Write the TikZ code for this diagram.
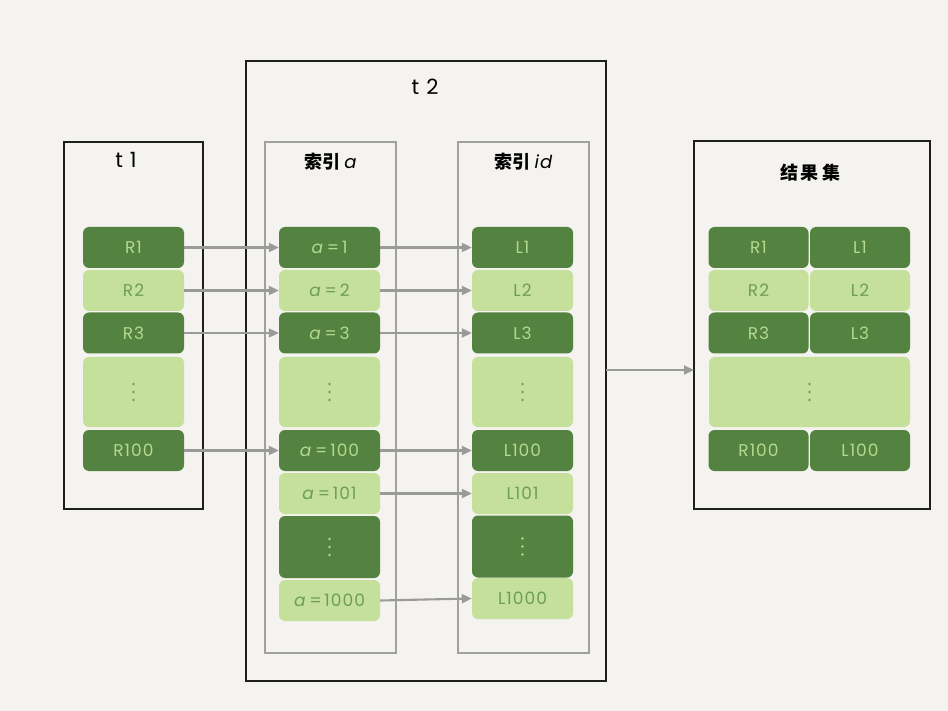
\documentclass[tikz,border=0pt]{standalone}
\usepackage{fontspec}
\setmainfont{Poppins}[LetterSpace=6]
\newfontfamily\cjk{Noto Sans CJK SC}
\usetikzlibrary{arrows.meta,calc}
\definecolor{bg}{HTML}{F4F3EF}
\definecolor{dkg}{HTML}{548240}
\definecolor{ltg}{HTML}{C5E09B}
\definecolor{dktxt}{HTML}{B3D98F}
\definecolor{lttxt}{HTML}{6E9E55}
\definecolor{arr}{HTML}{9A9A9A}
\definecolor{frame}{HTML}{1E1E1E}
\definecolor{gframe}{HTML}{A0A0A0}
\tikzset{
  cell/.style={rounded corners=6pt, inner sep=0pt, minimum width=101pt, minimum height=41pt, font=\fontsize{17}{20}\selectfont},
  dk/.style={cell, fill=dkg, text=dktxt},
  lt/.style={cell, fill=ltg, text=lttxt},
  blackbox/.style={draw=frame, line width=1.6pt},
  graybox/.style={draw=gframe, line width=1.3pt},
  link/.style={draw=arr, line width=2.1pt, -{Triangle[length=10pt,width=9pt]}},
  ttl/.style={font=\fontsize{21}{24}\selectfont, text=black},
  cttl/.style={font=\cjk\bfseries\fontsize{18}{21}\selectfont, text=black},
}
\newcommand{\threedots}[2]{%
  \fill[#2] ($(#1)+(0,-8)$) circle (1.4pt) (#1) circle (1.4pt) ($(#1)+(0,8)$) circle (1.4pt);}
\begin{document}
\begin{tikzpicture}[x=1pt,y=-1pt]
\fill[bg] (0,0) rectangle (948,711);
\useasboundingbox (0,0) rectangle (948,711);
% frames
\draw[blackbox] (64,142) rectangle (203,509);
\node[ttl] (t1t) at (126,160) {t\,\,1};
\draw[blackbox] (246,61) rectangle (606,681);
\coordinate (t2e) at (606,370);
\node[ttl] (t2t) at (425,87) {t\,\,2};
\draw[graybox] (265,142) rectangle (396,653);
\node[cttl] (iat) at (331,162) {索引 \textit{\rmfamily\mdseries a}};
\draw[graybox] (458,142) rectangle (589,653);
\node[cttl] (iidt) at (524,162) {索引 \textit{\rmfamily\mdseries id}};
\draw[blackbox] (694,141) rectangle (930,509);
\coordinate (rse) at (694,370);
\node[cttl] (rst) at (810,173) {结\,果\,集};
% t1 rows
\node[dk] (r1) at (133.5,247.5) {R1};
\node[lt] (r2) at (133.5,290.5) {R2};
\node[dk] (r3) at (133.5,333) {R3};
\node[lt, minimum height=70pt] (rd) at (133.5,392) {};
\node[dk] (r100) at (133.5,450.5) {R100};
% index a rows
\node[dk] (a1) at (329.5,247.5) {\textit{a}\,=\,1};
\node[lt] (a2) at (329.5,290.5) {\textit{a}\,=\,2};
\node[dk] (a3) at (329.5,333) {\textit{a}\,=\,3};
\node[lt, minimum height=70pt] (ad) at (329.5,392) {};
\node[dk] (a100) at (329.5,450.5) {\textit{a}\,=\,100};
\node[lt] (a101) at (329.5,493.5) {\textit{a}\,=\,101};
\node[dk, minimum height=62pt] (ad2) at (329.5,547) {};
\node[lt] (a1000) at (329.5,600.5) {\textit{a}\,=\,1000};
% index id rows
\node[dk] (l1) at (522.5,247.5) {L1};
\node[lt] (l2) at (522.5,290.5) {L2};
\node[dk] (l3) at (522.5,333) {L3};
\node[lt, minimum height=70pt] (ld) at (522.5,392) {};
\node[dk] (l100) at (522.5,450.5) {L100};
\node[lt] (l101) at (522.5,493.5) {L101};
\node[dk, minimum height=62pt] (ld2) at (522.5,546.5) {};
\node[lt] (l1000) at (522.5,598.5) {L1000};
% result set
\node[dk, minimum width=100pt] (s1r) at (758.5,247.5) {R1};
\node[dk, minimum width=100pt] (s1l) at (860,247.5) {L1};
\node[lt, minimum width=100pt] (s2r) at (758.5,290.5) {R2};
\node[lt, minimum width=100pt] (s2l) at (860,290.5) {L2};
\node[dk, minimum width=100pt] (s3r) at (758.5,333) {R3};
\node[dk, minimum width=100pt] (s3l) at (860,333) {L3};
\node[lt, minimum width=201pt, minimum height=70pt] (sd) at (809.5,392) {};
\node[dk, minimum width=100pt] (s4r) at (758.5,450.5) {R100};
\node[dk, minimum width=100pt] (s4l) at (860,450.5) {L100};
% dots
\threedots{rd.center}{lttxt}
\threedots{ad.center}{lttxt}
\threedots{ld.center}{lttxt}
\threedots{sd.center}{lttxt}
\threedots{ad2.center}{dktxt}
\threedots{ld2.center}{dktxt}
% arrows
\draw[link] (r1) -- (a1);
\draw[link] (r2) -- (a2);
\draw[link] (r3) -- (a3);
\draw[link] (r100.east) -- (a100.west);
\draw[link] (a1) -- (l1);
\draw[link] (a2) -- (l2);
\draw[link] (a3) -- (l3);
\draw[link] (a100) -- (l100);
\draw[link] (a101) -- (l101);
\draw[link] (a1000.east) -- (l1000.west);
\draw[link] (t2e) -- (rse);
\end{tikzpicture}
\end{document}
